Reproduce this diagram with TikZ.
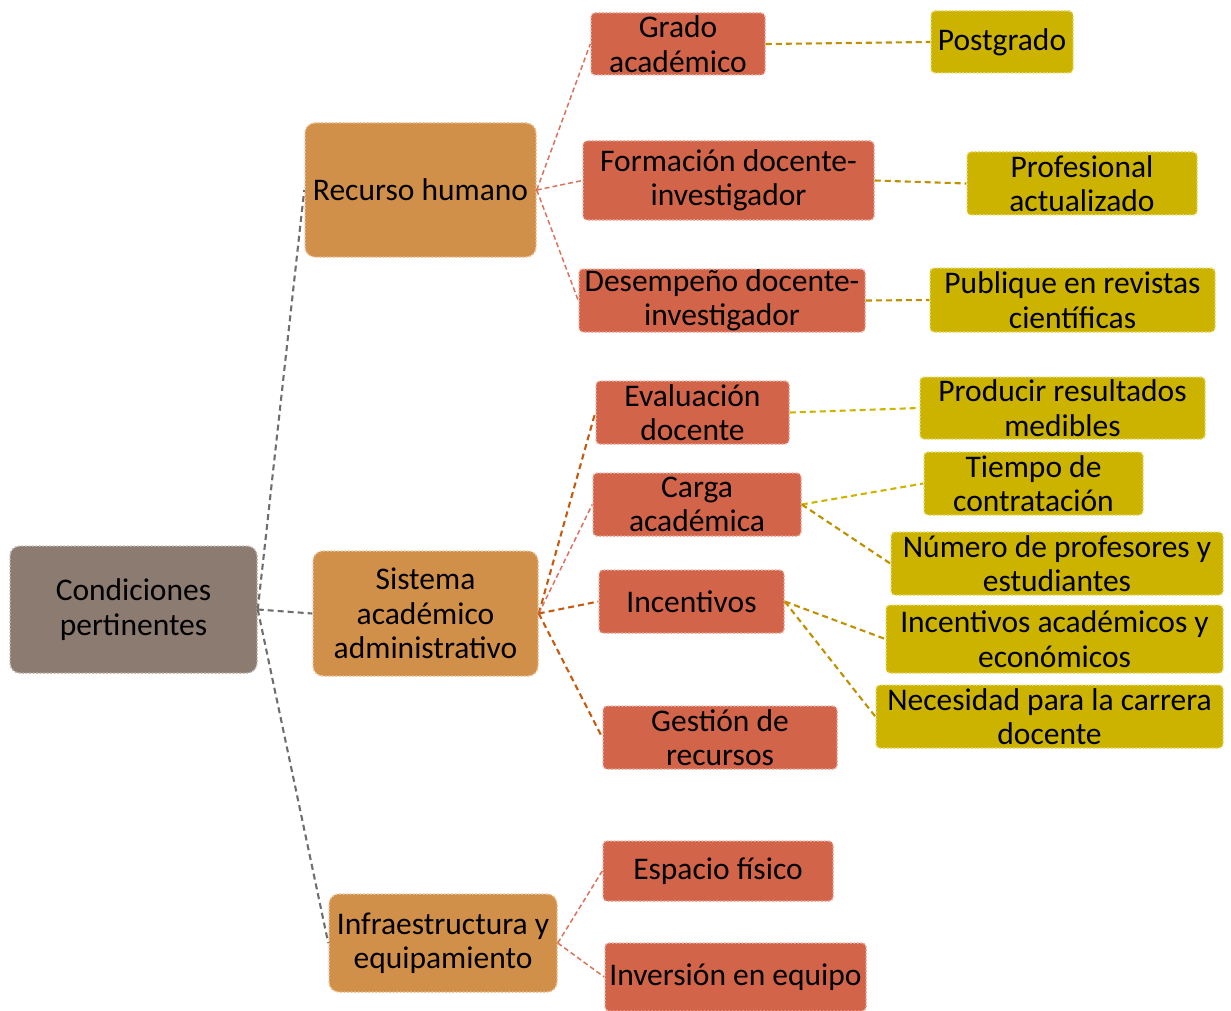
\documentclass[tikz,border=0pt]{standalone}
\usepackage{fontspec}
\setmainfont{Carlito}
\definecolor{rootfill}{HTML}{8C7B70}
\definecolor{rootdraw}{HTML}{BDB2AA}
\definecolor{lafill}{HTML}{D1904A}
\definecolor{ladraw}{HTML}{EAC294}
\definecolor{lbfill}{HTML}{D2644A}
\definecolor{lbdraw}{HTML}{EEA798}
\definecolor{lcfill}{HTML}{CBB300}
\definecolor{lcdraw}{HTML}{E8DA6A}
\definecolor{cgray}{HTML}{6E6E6E}
\definecolor{csalmon}{HTML}{D9735D}
\definecolor{corange}{HTML}{C55A11}
\definecolor{cgold}{HTML}{BF9000}
\definecolor{cyellow}{HTML}{CCB400}
\tikzset{
  box/.style={inner sep=0pt, align=center, font=\fontsize{31.5}{34.5}\selectfont, text=black, line width=1.5pt, dash pattern=on 1.5pt off 2pt},
  rootbox/.style={box, fill=rootfill, draw=rootdraw, rounded corners=10pt},
  labox/.style={box, fill=lafill, draw=ladraw, rounded corners=10pt},
  lbbox/.style={box, fill=lbfill, draw=lbdraw, rounded corners=4pt},
  lcbox/.style={box, fill=lcfill, draw=lcdraw, rounded corners=4pt},
  conn/.style={line width=2.1pt, dash pattern=on 6pt off 4pt},
  thinconn/.style={line width=1.5pt, dash pattern=on 5pt off 3pt},
}
\newcommand{\bx}[7]{% style, name, left, top, right, bottom, text
  \node[#1, minimum width={#5-#3}, minimum height={#6-#4}] (#2) at ({(#3+#5)/2},{(#4+#6)/2}) {#7};}
\begin{document}
\begin{tikzpicture}[x=1pt,y=-1pt]
\useasboundingbox (0,0) rectangle (1231,1011);
% boxes
\bx{rootbox}{root}{10}{546}{257}{673}{Condiciones\\pertinentes}
\bx{labox}{recurso}{305}{123}{536}{257}{Recurso humano}
\bx{labox}{sistema}{313}{551}{538}{676}{Sistema\\académico\\administrativo}
\bx{labox}{infra}{329}{894}{557}{992}{Infraestructura y\\equipamiento}
\bx{lbbox}{grado}{591}{13}{765}{75}{Grado\\académico}
\bx{lbbox}{formacion}{583}{141}{874}{220}{Formación docente-\\investigador}
\bx{lbbox}{desempeno}{579}{269}{865}{332}{Desempeño docente-\\investigador}
\bx{lbbox}{evaluacion}{596}{381}{789}{444}{Evaluación\\docente}
\bx{lbbox}{carga}{593}{473}{801}{536}{Carga\\académica}
\bx{lbbox}{incentivos}{599}{570}{784}{633}{Incentivos}
\bx{lbbox}{gestion}{603}{706}{837}{769}{Gestión de\\recursos}
\bx{lbbox}{espacio}{603}{841}{833}{901}{Espacio físico}
\bx{lbbox}{inversion}{605}{943}{866}{1011}{Inversión en equipo}
\bx{lcbox}{postgrado}{931}{11}{1073}{73}{Postgrado}
\bx{lcbox}{profesional}{967}{152}{1197}{215}{Profesional\\actualizado}
\bx{lcbox}{publique}{930}{268}{1215}{332}{Publique en revistas\\científicas}
\bx{lcbox}{producir}{920}{377}{1205}{439}{Producir resultados\\medibles}
\bx{lcbox}{tiempo}{924}{452}{1143}{515}{Tiempo de\\contratación}
\bx{lcbox}{numero}{891}{532}{1223}{595}{Número de profesores y\\estudiantes}
\bx{lcbox}{incacad}{886}{605}{1223}{673}{Incentivos académicos y\\económicos}
\bx{lcbox}{necesidad}{876}{685}{1223}{748}{Necesidad para la carrera\\docente}
% connectors
\draw[conn, cgray] (root.east) -- (recurso.west);
\draw[conn, cgray] (root.east) -- (sistema.west);
\draw[conn, cgray] (root.east) -- (infra.west);
\draw[thinconn, csalmon] (recurso.east) -- (grado.west);
\draw[thinconn, csalmon] (recurso.east) -- (formacion.west);
\draw[thinconn, csalmon] (recurso.east) -- (desempeno.west);
\draw[conn, corange] (sistema.east) -- (evaluacion.west);
\draw[thinconn, csalmon] (sistema.east) -- (carga.west);
\draw[conn, corange] (sistema.east) -- (incentivos.west);
\draw[conn, corange] (sistema.east) -- (gestion.west);
\draw[thinconn, csalmon] (infra.east) -- (espacio.west);
\draw[thinconn, csalmon] (infra.east) -- (inversion.west);
\draw[conn, cgold] (grado.east) -- (postgrado.west);
\draw[conn, cgold] (formacion.east) -- (profesional.west);
\draw[conn, cgold] (desempeno.east) -- (publique.west);
\draw[conn, cyellow] (evaluacion.east) -- (producir.west);
\draw[conn, cyellow] (carga.east) -- (tiempo.west);
\draw[conn, cgold] (carga.east) -- (numero.west);
\draw[conn, cgold] (incentivos.east) -- (incacad.west);
\draw[conn, cgold] (incentivos.east) -- (necesidad.west);
\end{tikzpicture}
\end{document}
